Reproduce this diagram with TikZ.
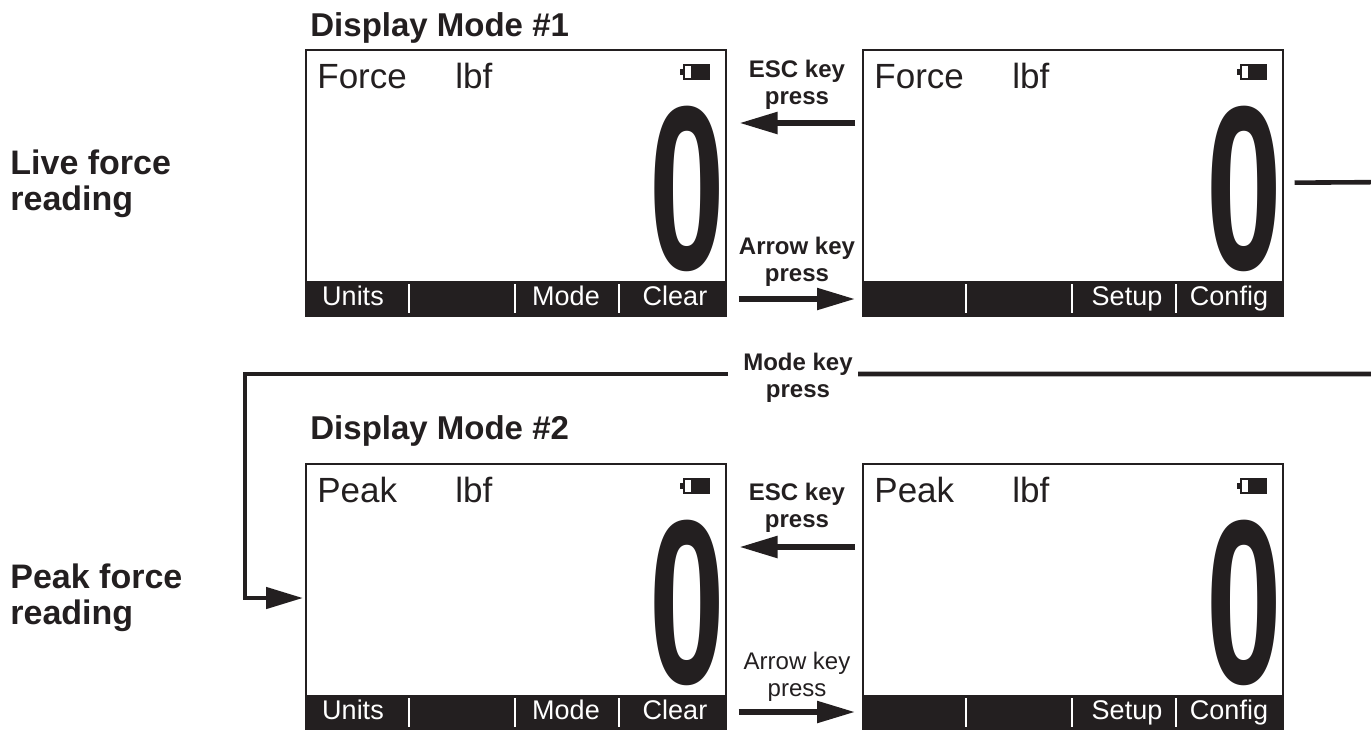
\documentclass[tikz,border=0pt]{standalone}
\usepackage{fontspec}
\setmainfont{Liberation Sans}
\usetikzlibrary{arrows.meta}
\definecolor{ink}{RGB}{35,31,32}
\tikzset{
  screen/.style={draw=ink, line width=0.75pt, minimum width=210pt, minimum height=133pt, inner sep=0pt, anchor=north west},
  lcdtxt/.style={font=\fontsize{17.5}{20}\selectfont, text=ink, inner sep=0pt, anchor=base west},
  bartxt/.style={font=\fontsize{13.5}{15}\selectfont, text=white, inner sep=0pt, anchor=base},
  bigzero/.style={font=\bfseries\fontsize{117}{117}\selectfont, text=ink, inner sep=0pt, anchor=base},
  heading/.style={font=\bfseries\fontsize{16.5}{19}\selectfont, text=ink, inner sep=0pt, anchor=base west},
  sidelabel/.style={font=\bfseries\fontsize{17}{18}\selectfont, text=ink, inner sep=0pt, align=left, anchor=north west},
  keylabel/.style={font=\bfseries\fontsize{12}{13.5}\selectfont, text=ink, inner sep=0pt, align=center, anchor=north},
  keylabelreg/.style={font=\fontsize{12}{13.5}\selectfont, text=ink, inner sep=0pt, align=center, anchor=north},
  keyarrow/.style={draw=ink, line width=2.7pt, -{Triangle[length=19pt,width=10.5pt]}},
  conn/.style={draw=ink, line width=2.3pt},
}
\newcommand\lcdscreen[5]{%
 \begin{scope}[shift={(#2,#3)}]
  \fill[ink] (0,232) rectangle (420,266);
  \foreach \xx in {104,210,314} \draw[white, line width=1pt] (\xx,235) -- (\xx,264);
  \node[lcdtxt] (#1t) at (12,39) {#4};
  \node[lcdtxt] (#1u) at (150,39) {lbf};
  \draw[ink, line width=0.75pt] (379,16) rectangle (404,30);
  \fill[ink] (386,16) rectangle (404,30);
  \fill[ink] (375,20) rectangle (379,26);
  \node[bigzero] (#1z) at (382,220) {\scalebox{0.58}[1]{0}};
  #5
  \node[screen] (#1) at (0,0) {};
 \end{scope}}
\begin{document}
\begin{tikzpicture}[x=0.5pt,y=-0.5pt]
\useasboundingbox (0,0) rectangle (1371,729);
\clip (0,0) rectangle (1371,729);
\node[heading] (h1) at (310,36) {Display Mode \#1};
\node[heading] (h2) at (310,439) {Display Mode \#2};
\node[sidelabel] (l1) at (10,149) {Live force\\reading};
\node[sidelabel] (l2) at (10,563) {Peak force\\reading};
\lcdscreen{s1}{305}{49}{Force}{%
  \node[bartxt] (s1a) at (48,256) {Units};
  \node[bartxt] (s1b) at (261,256) {Mode};
  \node[bartxt] (s1c) at (370,256) {Clear};}
\lcdscreen{s2}{862}{49}{Force}{%
  \node[bartxt] (s2a) at (265,256) {Setup};
  \node[bartxt] (s2b) at (367,256) {Config};}
\lcdscreen{s3}{305}{463}{Peak}{%
  \node[bartxt] (s3a) at (48,256) {Units};
  \node[bartxt] (s3b) at (261,256) {Mode};
  \node[bartxt] (s3c) at (370,256) {Clear};}
\lcdscreen{s4}{862}{463}{Peak}{%
  \node[bartxt] (s4a) at (265,256) {Setup};
  \node[bartxt] (s4b) at (367,256) {Config};}
\node[keylabel] (esc1) at (797,60) {ESC key\\press};
\node[keylabel] (arr1) at (797,237) {Arrow key\\press};
\node[keylabel] (mode) at (798,353) {Mode key\\press};
\node[keylabel] (esc2) at (797,483) {ESC key\\press};
\node[keylabelreg] (arr2) at (797,652) {Arrow key\\press};
\draw[keyarrow, shorten <=3.5pt, shorten >=6.5pt] (s2.west |- 0,123) -- (s1.east |- 0,123);
\draw[keyarrow, shorten <=6pt, shorten >=3.5pt] (s1.east |- 0,299) -- (s2.west |- 0,299);
\draw[keyarrow, shorten <=3.5pt, shorten >=6.5pt] (s4.west |- 0,547) -- (s3.east |- 0,547);
\draw[keyarrow, shorten <=6pt, shorten >=3.5pt] (s3.east |- 0,712) -- (s4.west |- 0,712);
\coordinate (rfar) at (1400,182);
\coordinate (rfarb) at (1400,374);
\coordinate (mright) at (858,374);
\coordinate (mleft) at (728,374);
\coordinate (lc) at (245,374);
\coordinate (lb) at (245,598);
\draw[conn, shorten <=5.5pt] (s2.east) -- (rfar) -- (rfarb) -- (mright);
\draw[conn, -{Triangle[length=18.5pt,width=10.5pt]}, shorten >=1pt] (mleft) -- (lc) -- (lb) -- (s3.west |- lb);
\end{tikzpicture}
\end{document}
